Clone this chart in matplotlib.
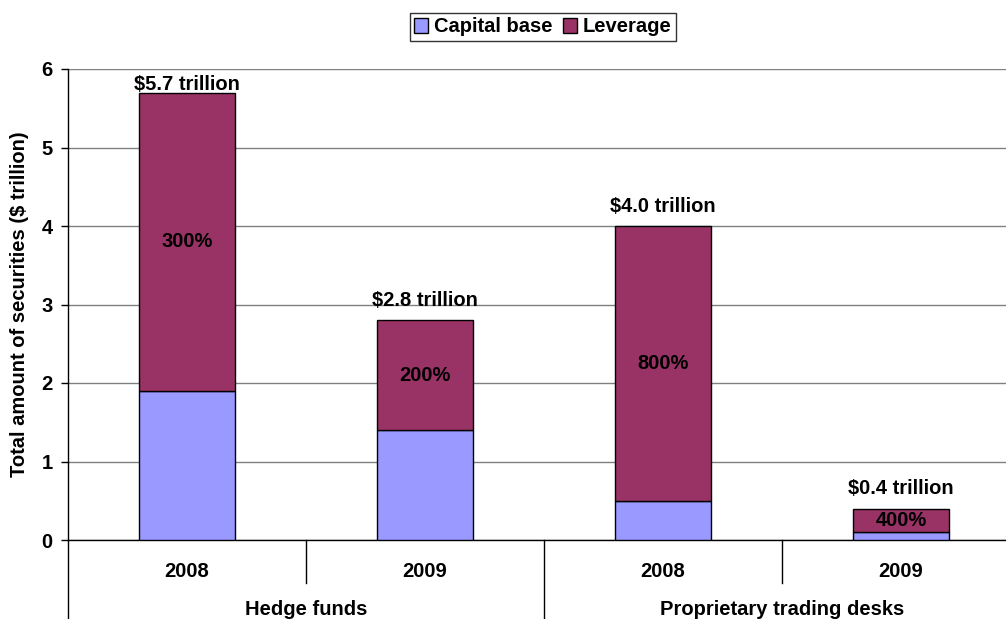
import numpy as np
import matplotlib.pyplot as plt
from matplotlib.patches import Patch

plt.rcParams['font.family'] = ['Liberation Sans', 'DejaVu Sans']
plt.rcParams['font.weight'] = 'bold'

# data ($ trillion)
years = ['2008', '2009', '2008', '2009']
groups = ['Hedge funds', 'Proprietary trading desks']
capital = [1.9, 1.4, 0.5, 0.1]
leverage = [3.8, 1.4, 3.5, 0.3]
pct_labels = ['300%', '200%', '800%', '400%']
total_labels = ['$5.7 trillion', '$2.8 trillion', '$4.0 trillion', '$0.4 trillion']

cap_color = '#9999FF'
lev_color = '#993366'
fs = 14.5

fig = plt.figure(figsize=(10.06, 6.19), dpi=100)
ax = fig.add_axes([68/1006, 79/619, 952/1006, 471/619])

x = np.arange(len(years))
w = 0.40
ax.bar(x, capital, w, color=cap_color, edgecolor='black', linewidth=1, zorder=3)
ax.bar(x, leverage, w, bottom=capital, color=lev_color, edgecolor='black', linewidth=1, zorder=3)

totals = np.array(capital) + np.array(leverage)
for i in range(len(x)):
    mid = capital[i] + leverage[i] / 2
    ax.text(x[i], mid, pct_labels[i], ha='center', va='center', fontsize=fs, fontweight='bold', zorder=4)
    ty = min(totals[i] + 0.25, 5.8)
    ax.text(x[i], ty, total_labels[i], ha='center', va='center', fontsize=fs, fontweight='bold', zorder=4)

ax.set_xlim(-0.5, 3.5)
ax.set_ylim(0, 6)
ax.set_yticks(range(7))
ax.tick_params(axis='y', labelsize=fs, length=5, direction='out', width=1, pad=6)
for lab in ax.get_yticklabels():
    lab.set_fontweight('bold')
ax.yaxis.grid(True, color='#808080', linewidth=1, zorder=0)
ax.set_ylabel('Total amount of securities ($ trillion)', fontsize=fs, fontweight='bold', labelpad=9)

for s in ['top', 'right']:
    ax.spines[s].set_visible(False)
ax.spines['left'].set_linewidth(1)
ax.spines['bottom'].set_linewidth(1)
ax.set_xticks([])

# two-level category axis drawn below the plot
trans = ax.get_xaxis_transform()
ax.plot([-0.5, -0.5], [0, -0.2], transform=trans, color='black', lw=1, clip_on=False)
ax.plot([1.5, 1.5], [0, -0.2], transform=trans, color='black', lw=1, clip_on=False)
for xs in [0.5, 2.5]:
    ax.plot([xs, xs], [0, -0.092], transform=trans, color='black', lw=1, clip_on=False)
for i, yr in enumerate(years):
    ax.text(x[i], -0.066, yr, transform=trans, ha='center', va='center', fontsize=fs, fontweight='bold')
for j, g in enumerate(groups):
    ax.text(0.5 + 2 * j, -0.148, g, transform=trans, ha='center', va='center', fontsize=fs, fontweight='bold')

handles = [Patch(facecolor=cap_color, edgecolor='black'), Patch(facecolor=lev_color, edgecolor='black')]
leg = fig.legend(handles, ['Capital base', 'Leverage'], loc='center', bbox_to_anchor=(543/1006, 1 - 27/619),
                 ncol=2, fontsize=fs, frameon=True, fancybox=False, edgecolor='black',
                 handlelength=0.7, handleheight=0.7, handletextpad=0.3, columnspacing=0.5,
                 borderpad=0.2, borderaxespad=0)
leg.get_frame().set_linewidth(1)
for t in leg.get_texts():
    t.set_fontweight('bold')

fig.savefig('out.png', dpi=100)
